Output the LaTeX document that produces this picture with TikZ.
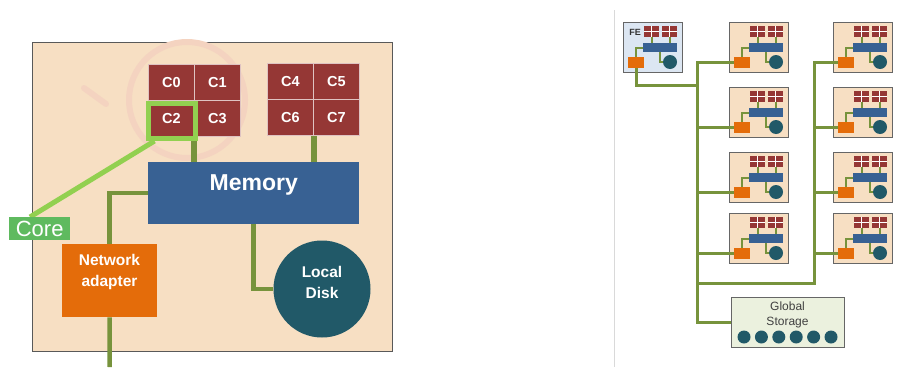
\documentclass[tikz,border=0pt]{standalone}
\usepackage{fontspec}
\setmainfont{Liberation Sans}
\definecolor{beige}{HTML}{F7DFC3}
\definecolor{corered}{HTML}{953735}
\definecolor{memblue}{HTML}{386193}
\definecolor{nicorange}{HTML}{E46C0A}
\definecolor{diskteal}{HTML}{215968}
\definecolor{olivel}{HTML}{77933C}
\definecolor{limeg}{HTML}{92D050}
\definecolor{corelbl}{HTML}{5FBA5F}
\definecolor{febg}{HTML}{DCE6F2}
\definecolor{gsbg}{HTML}{EBF1DE}
\definecolor{wmark}{HTML}{F4D3C0}
\pgfdeclarelayer{bg}
\pgfdeclarelayer{mid}
\pgfsetlayers{bg,mid,main}
\tikzset{
  cell/.style={draw=white!70!corered, line width=0.8pt, fill=corered, minimum width=46pt, minimum height=36pt,
    inner sep=0pt, anchor=north west, text=white, font=\bfseries\fontsize{14.5}{16}\selectfont},
  bigwhite/.style={text=white, font=\bfseries\fontsize{15.5}{21}\selectfont, align=center, inner sep=0pt},
  biglink/.style={olivel, line width=4.5pt},
  minibox/.style={draw=gray!80!black, line width=1.3pt, minimum width=59pt, minimum height=50pt, inner sep=0pt, anchor=north west},
  minicpu/.style={fill=corered, minimum width=15pt, minimum height=11pt, inner sep=0pt, anchor=north west},
  minimem/.style={fill=memblue, minimum width=34pt, minimum height=9pt, inner sep=0pt, anchor=north west},
  mininic/.style={fill=nicorange, minimum width=16pt, minimum height=11pt, inner sep=0pt, anchor=north west},
  minidisk/.style={circle, fill=diskteal, minimum size=14pt, inner sep=0pt},
  minilink/.style={olivel, line width=2pt},
  net/.style={olivel, line width=3pt}
}
\newcommand{\mininode}[4]{%
  \begin{pgfonlayer}{bg}
    \node[minibox, fill=#4] (#1) at (#2,#3) {};
  \end{pgfonlayer}
  \begin{scope}[shift={(#2,#3)}]
    \node[minicpu] (#1ca) at (21,4) {};
    \node[minicpu] (#1cb) at (39,4) {};
    \node[minimem] (#1mem) at (20,21) {};
    \node[mininic] (#1nic) at (5,35) {};
    \node[minidisk] (#1disk) at (47,40) {};
  \end{scope}
  \draw[white, line width=0.7pt] (#1ca.north) -- (#1ca.south) (#1ca.west) -- (#1ca.east)
     (#1cb.north) -- (#1cb.south) (#1cb.west) -- (#1cb.east);
  \begin{pgfonlayer}{mid}
    \draw[minilink] (#1ca.south) -- (#1ca.south |- #1mem.north);
    \draw[minilink] (#1cb.south) -- (#1cb.south |- #1mem.north);
    \draw[minilink] (#1mem.west) -| (#1nic.north);
    \draw[minilink] (#1mem.south) |- (#1disk.west);
  \end{pgfonlayer}}
\begin{document}
\begin{tikzpicture}[x=1pt,y=-1pt]
\useasboundingbox (0,0) rectangle (920,367);
% ---------------- left: one server ----------------
\begin{pgfonlayer}{bg}
  \node[draw=gray!70!black, line width=1.2pt, fill=beige, minimum width=360pt, minimum height=309pt,
        anchor=north west, inner sep=0pt] (server) at (32,42) {};
  \draw[wmark, line width=6pt] (187,100) circle[radius=58pt];
  \draw[wmark, line width=6pt, line cap=round] (84,88) -- (106,104);
\end{pgfonlayer}
\node[cell] (c0) at (148,64) {C0};
\node[cell] (c1) at (194,64) {C1};
\node[cell] (c2) at (148,100) {C2};
\node[cell] (c3) at (194,100) {C3};
\node[cell] (c4) at (267,63) {C4};
\node[cell] (c5) at (313,63) {C5};
\node[cell] (c6) at (267,99) {C6};
\node[cell] (c7) at (313,99) {C7};
\node[draw=limeg, line width=5pt, minimum width=47pt, minimum height=35pt, inner sep=0pt, anchor=north west] (hl) at (145.5,101) {};
\node[fill=memblue, minimum width=211pt, minimum height=62pt, anchor=north west, inner sep=0pt,
      text=white, font=\bfseries\fontsize{23}{25}\selectfont, text depth=22pt] (mem) at (148,162) {Memory};
\node[fill=nicorange, minimum width=95pt, minimum height=73pt, anchor=north west, inner sep=0pt] (nic) at (62,244) {};
\node[bigwhite] (nictxt) at (109.5,272) {Network\\adapter};
\node[circle, fill=diskteal, minimum size=97pt, inner sep=0pt] (disk) at (322,289) {};
\node[bigwhite] (disktxt) at (322,282) {Local\\Disk};
\node[fill=corelbl, text=white, font=\fontsize{22}{24}\selectfont, minimum width=61pt, minimum height=23pt,
      inner sep=0pt, anchor=north west] (corelabel) at (9,217) {Core};
\coordinate (netout) at (109.5,367);
\begin{pgfonlayer}{mid}
  \draw[olivel, line width=6.5pt] (c3.south west) -- (c3.south west |- mem.north);
  \draw[olivel, line width=6.5pt] (c6.south east) -- (c6.south east |- mem.north);
  \draw[biglink] (mem.west) -| (nic.north);
  \draw[biglink] (mem.south) |- (disk.west);
  \draw[biglink] (nic.south) -- (netout);
  \draw[limeg, line width=5pt] ([xshift=21pt]corelabel.north west) -- ([xshift=9pt]hl.south west);
\end{pgfonlayer}
% ---------------- right: cluster ----------------
\draw[gray!30, line width=1pt] (614,10) -- (614,367);
\mininode{fe}{623}{22}{febg}
\node[font=\bfseries\fontsize{9}{10}\selectfont, text=black!80, inner sep=0pt] (felbl) at (635,32) {FE};
\mininode{n1}{729}{22}{beige}
\mininode{n2}{729}{87}{beige}
\mininode{n3}{729}{152}{beige}
\mininode{n4}{729}{213}{beige}
\mininode{m1}{833}{22}{beige}
\mininode{m2}{833}{87}{beige}
\mininode{m3}{833}{152}{beige}
\mininode{m4}{833}{213}{beige}
\node[draw=gray!80!black, line width=1.3pt, fill=gsbg, minimum width=113pt, minimum height=50pt,
      inner sep=0pt, anchor=north west] (gs) at (731,297) {};
\node[font=\fontsize{12}{15}\selectfont, text=black!75, align=center, inner sep=0pt] (gstxt) at (787.5,315) {Global\\Storage};
\foreach \k in {0,...,5} \node[circle, fill=diskteal, minimum size=13pt, inner sep=0pt] (gsd\k) at (744+17.4*\k,337) {};
\coordinate (tfe) at (698,85);
\coordinate (tc) at (698,283);
\coordinate (td) at (814,283);
\begin{pgfonlayer}{mid}
  \draw[net] (fenic.south) |- (tfe);
  \draw[net] (gs.west) -| ([xshift=-36.5pt]n1nic.west) -- (n1nic.west);
  \draw[net] (n2nic.west -| tc) -- (n2nic.west);
  \draw[net] (n3nic.west -| tc) -- (n3nic.west);
  \draw[net] (n4nic.west -| tc) -- (n4nic.west);
  \draw[net] (tc) -- (td) |- (m1nic.west);
  \draw[net] (m2nic.west -| td) -- (m2nic.west);
  \draw[net] (m3nic.west -| td) -- (m3nic.west);
  \draw[net] (m4nic.west -| td) -- (m4nic.west);
\end{pgfonlayer}
\end{tikzpicture}
\end{document}
